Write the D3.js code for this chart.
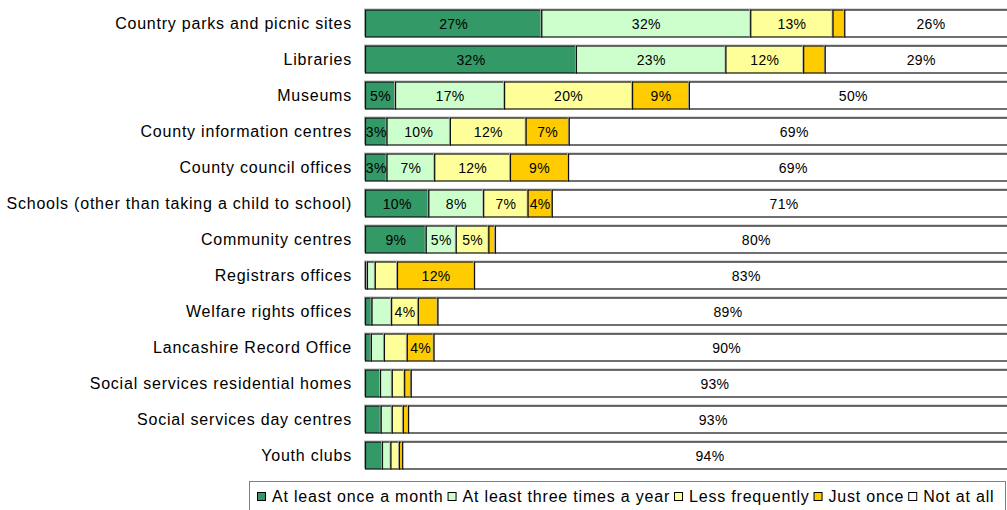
<!DOCTYPE html>
<html>
<head>
<meta charset="utf-8">
<script src="https://cdn.jsdelivr.net/npm/d3@7"></script>
<style>
  html, body { margin: 0; padding: 0; background: #fff; }
  svg { display: block; font-family: "Liberation Sans", Arial, sans-serif; }
</style>
</head>
<body>
<svg id="chart" width="1007" height="510"></svg>
<script>
// Facilities used, share of respondents (%) by how often they visit
const categories = [
  "Country parks and picnic sites",
  "Libraries",
  "Museums",
  "County information centres",
  "County council offices",
  "Schools (other than taking a child to school)",
  "Community centres",
  "Registrars offices",
  "Welfare rights offices",
  "Lancashire Record Office",
  "Social services residential homes",
  "Social services day centres",
  "Youth clubs"
];
const seriesNames = ["At least once a month", "At least three times a year", "Less frequently", "Just once", "Not at all"];
const atLeastMonthly   = [27.0, 32.3,  4.6,  3.3,  3.3,  9.7,  9.3,  0.3,  1.0,  0.9,  2.3,  2.4,  2.6];
const threeTimesYear   = [32.0, 22.9, 16.7,  9.7,  7.3,  8.4,  4.6,  1.2,  3.0,  2.0,  1.8,  1.7,  1.3];
const lessFrequently   = [12.6, 11.9, 19.6, 11.6, 11.6,  6.8,  5.0,  3.4,  4.1,  3.5,  1.9,  1.7,  1.3];
const justOnce         = [ 1.8,  3.3,  8.7,  6.6,  8.9,  3.7,  1.0, 11.8,  3.0,  4.1,  1.0,  0.8,  0.5];
const notAtAll         = [26.4, 29.4, 50.2, 68.9, 68.8, 71.0, 79.9, 83.2, 88.8, 89.6, 93.0, 93.3, 94.1];

const seriesValues = [atLeastMonthly, threeTimesYear, lessFrequently, justOnce, notAtAll];
const colors = ["#339966", "#ccffcc", "#ffff99", "#ffcc00", "#ffffff"];

const svg = d3.select("#chart");

const x = d3.scaleLinear().domain([0, 100]).range([365, 1018]);
const y = d3.scaleBand().domain(categories).range([5, 473]).paddingInner(0.25).paddingOuter(0.125);

// stacked segments
const rows = categories.map((c, i) => {
  const r = { category: c };
  seriesNames.forEach((s, k) => { r[s] = seriesValues[k][i]; });
  return r;
});
const stacked = d3.stack().keys(seriesNames)(rows);

const pct = v => Math.round(v) + "%";
// smaller segments carry no value label
const showLabel = (k, v) => k === 4 || v >= (k === 0 ? 3 : 3.6);

const groups = svg.append("g").selectAll("g")
  .data(stacked)
  .join("g")
  .attr("fill", (d, k) => colors[k]);

// soft grey edge around each segment
groups.selectAll("rect.edge")
  .data(d => d)
  .join("rect")
  .attr("class", "edge")
  .attr("x", d => x(d[0]) - 0.5)
  .attr("y", d => y(d.data.category) - 0.5)
  .attr("width", d => x(d[1]) - x(d[0]))
  .attr("height", y.bandwidth())
  .attr("fill", "none")
  .attr("stroke", "#b5b5b5")
  .attr("stroke-width", 1);

groups.selectAll("rect.seg")
  .data(d => d)
  .join("rect")
  .attr("class", "seg")
  .attr("x", d => x(d[0]) + 0.5)
  .attr("y", d => y(d.data.category) + 0.5)
  .attr("width", d => x(d[1]) - x(d[0]))
  .attr("height", y.bandwidth())
  .attr("stroke", "#111")
  .attr("stroke-width", 1.2);

// value labels
stacked.forEach((layer, k) => {
  svg.append("g").selectAll("text")
    .data(layer.filter(d => showLabel(k, d[1] - d[0])))
    .join("text")
    .attr("x", d => (x(d[0]) + x(d[1])) / 2 + 0.5)
    .attr("y", d => y(d.data.category) + y.bandwidth() / 2 + 1)
    .attr("text-anchor", "middle")
    .attr("dominant-baseline", "central")
    .attr("font-size", 14)
    .attr("letter-spacing", 0.3)
    .attr("fill", "#000")
    .text(d => pct(d[1] - d[0]));
});

// category axis labels
const yAxis = d3.axisLeft(y).tickSize(0).tickPadding(13);
const yg = svg.append("g").attr("transform", `translate(365,0)`).call(yAxis);
yg.select(".domain").remove();
yg.selectAll("text")
  .attr("font-size", 16)
  .attr("letter-spacing", 0.78)
  .attr("dy", "0.4em")
  .attr("font-family", "'Liberation Sans', Arial, sans-serif")
  .attr("fill", "#000");

// legend
const legend = svg.append("g");
legend.append("rect")
  .attr("x", 249.5).attr("y", 481.5)
  .attr("width", 756).attr("height", 40)
  .attr("fill", "#fff")
  .attr("stroke", "#808080")
  .attr("stroke-width", 1);

let lx = 257;
seriesNames.forEach((name, k) => {
  legend.append("rect")
    .attr("x", lx + 0.5).attr("y", 492.5)
    .attr("width", 8).attr("height", 8)
    .attr("fill", colors[k])
    .attr("stroke", "#000")
    .attr("stroke-width", 1);
  const t = legend.append("text")
    .attr("x", lx + 15).attr("y", 502)
    .attr("font-size", 16)
    .attr("letter-spacing", 0.8)
    .attr("fill", "#000")
    .text(name);
  lx = lx + 15 + t.node().getComputedTextLength() + 4;
});
</script>
</body>
</html>
